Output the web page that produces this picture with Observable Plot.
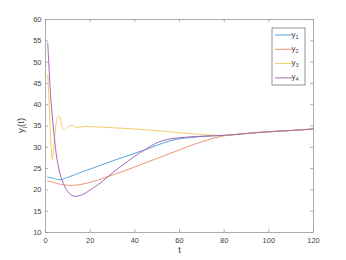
<!DOCTYPE html>
<html>
<head>
<meta charset="utf-8">
<script src="https://cdn.jsdelivr.net/npm/d3@7"></script>
<script src="https://cdn.jsdelivr.net/npm/@observablehq/plot@0.6"></script>
<style>
  html, body { margin: 0; padding: 0; background: #fff; }
  #chart { position: relative; width: 346px; height: 260px; }
</style>
</head>
<body>
<div id="chart"></div>
<script>
const t = [1,1.5,2,2.5,3,3.5,4,4.5,5,5.5,6,6.5,7,7.5,8,8.5,9,10,11,12,13,14,16,18,20,25,30,35,40,45,50,55,60,65,70,75,80,85,90,100,110,120];

const y1 = [23.0,22.95,22.9,22.85,22.8,22.72,22.65,22.57,22.5,22.45,22.4,22.38,22.4,22.48,22.57,22.67,22.77,22.95,23.15,23.35,23.55,23.75,24.15,24.55,24.9,25.85,26.8,27.7,28.6,29.5,30.5,31.4,32.0,32.3,32.55,32.7,32.8,33.0,33.25,33.65,33.95,34.3];
const y2 = [22.1,22.05,22.0,21.93,21.85,21.78,21.7,21.62,21.55,21.47,21.4,21.35,21.3,21.25,21.2,21.17,21.15,21.1,21.05,21.05,21.1,21.15,21.3,21.5,21.8,22.6,23.5,24.4,25.4,26.4,27.4,28.4,29.4,30.4,31.3,32.1,32.7,33.0,33.25,33.65,33.95,34.3];
const y3 = [47.0,41.5,35.5,30.0,27.2,29.0,32.0,34.6,36.3,37.2,37.4,36.9,35.8,34.7,34.15,34.0,34.2,34.7,35.1,35.15,34.85,34.7,34.8,34.9,34.85,34.75,34.6,34.45,34.3,34.1,33.9,33.65,33.45,33.2,33.0,32.85,32.8,33.0,33.25,33.65,33.95,34.3];
const y4 = [54.5,49.5,44.5,40.5,37.5,34.8,32.2,29.7,27.7,26.2,24.9,23.8,22.9,22.2,21.5,20.9,20.4,19.6,19.0,18.65,18.5,18.5,18.8,19.3,20.0,21.8,24.0,26.0,27.9,29.6,31.1,31.9,32.25,32.45,32.6,32.7,32.8,33.0,33.25,33.65,33.95,34.3];

const seriesNames = ["1","2","3","4"];
const seriesValues = [y1, y2, y3, y4];
const colors = ["#56a3db", "#ec9370", "#f4cd68", "#a468b5"];

const xTicks = [0,20,40,60,80,100,120];
const yTicks = [10,15,20,25,30,35,40,45,50,55,60];

const W = 346, H = 260;
const mL = 45, mR = 33, mT = 19, mB = 28;
const innerH = H - mT - mB, innerW = W - mL - mR;
const tickLen = 3;
const axisColor = "#999";
const textColor = "#444";

const rows = [];
seriesValues.forEach((vals, i) => vals.forEach((v, j) => rows.push({t: t[j], v, s: seriesNames[i]})));

const svg = Plot.plot({
  width: W, height: H,
  marginLeft: mL, marginRight: mR, marginTop: mT, marginBottom: mB,
  x: {domain: [0, 120]},
  y: {domain: [10, 60]},
  style: {fontFamily: "Liberation Sans, Arial, sans-serif", fontSize: "7.5px", color: textColor, background: "#fff"},
  marks: [
    Plot.axisX({ticks: xTicks, tickSize: 0, tickPadding: 5, label: null, tickFormat: d => d}),
    Plot.axisY({ticks: yTicks, tickSize: 0, tickPadding: 4, label: null, tickFormat: d => d}),
    Plot.tickX(xTicks, {x: d => d, stroke: axisColor, strokeWidth: 0.8, insetTop: innerH - tickLen}),
    Plot.tickX(xTicks, {x: d => d, stroke: axisColor, strokeWidth: 0.8, insetBottom: innerH - tickLen}),
    Plot.tickY(yTicks, {y: d => d, stroke: axisColor, strokeWidth: 0.8, insetRight: innerW - tickLen}),
    Plot.tickY(yTicks, {y: d => d, stroke: axisColor, strokeWidth: 0.8, insetLeft: innerW - tickLen}),
    ...seriesNames.map((s, i) => Plot.line(rows.filter(r => r.s === s), {x: "t", y: "v", stroke: colors[i], strokeWidth: 1, curve: "catmull-rom"})),
    Plot.frame({stroke: axisColor, strokeWidth: 0.8}),
    Plot.text(["t"], {frameAnchor: "bottom", dy: 20, fontSize: 9.5, fill: textColor})
  ]
});

document.getElementById("chart").appendChild(svg);

const g = d3.select(svg).append("g").attr("font-family", "Liberation Sans, Arial, sans-serif");

// y-axis label y_i(t)
const yl = g.append("text")
  .attr("transform", `translate(24,${mT + innerH / 2}) rotate(-90)`)
  .attr("text-anchor", "middle")
  .attr("fill", textColor)
  .attr("font-size", 9.5);
yl.append("tspan").text("y");
yl.append("tspan").attr("font-size", 6.5).attr("dy", 2.5).text("i");
yl.append("tspan").attr("dy", -2.5).text("(t)");

// legend
const lx = 272, ly = 28, lw = 33, lh = 57;
g.append("rect").attr("x", lx).attr("y", ly).attr("width", lw).attr("height", lh)
  .attr("fill", "#fff").attr("stroke", "#777").attr("stroke-width", 0.8);
seriesNames.forEach((s, i) => {
  const yy = ly + 7 + i * 14.3;
  g.append("line").attr("x1", lx + 3).attr("x2", lx + 20).attr("y1", yy).attr("y2", yy)
    .attr("stroke", colors[i]).attr("stroke-width", 1);
  const tx = g.append("text").attr("x", lx + 23).attr("y", yy + 1.5)
    .attr("font-size", 8).attr("fill", textColor).attr("stroke", "none");
  tx.append("tspan").attr("fill", textColor).text("y");
  tx.append("tspan").attr("fill", textColor).attr("font-size", 5.5).attr("dy", 2).text(s);
});
</script>
</body>
</html>
